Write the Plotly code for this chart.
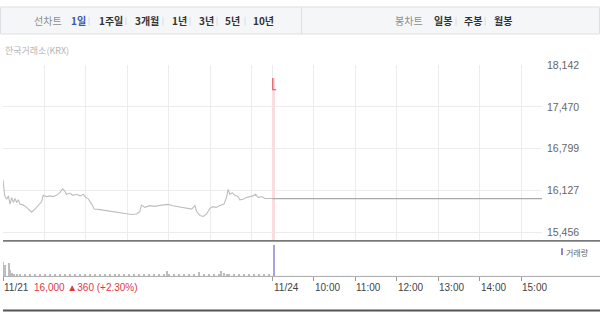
import plotly.graph_objects as go

W, H = 600, 312

# ---------------- data ----------------
# time axis: trading hours since 11/21 09:00 (11/21 session = 0..6.5, 11/24 session = 6.5..13)
price_t_1121 = [0.0, 0.04, 0.09, 0.13, 0.17, 0.21, 0.25, 0.29, 0.33, 0.37, 0.41, 0.49, 0.57,
                0.69, 0.77, 0.85, 0.93, 0.97, 1.05, 1.13, 1.21, 1.29, 1.37, 1.44, 1.49, 1.53,
                1.61, 1.69, 1.77, 1.86, 1.94, 2.00, 2.05, 2.14, 2.20, 2.34, 2.50, 2.66, 2.82,
                2.98, 3.10, 3.22, 3.30, 3.34, 3.42, 3.54, 3.66, 3.82, 3.98, 4.10, 4.22, 4.39,
                4.55, 4.63, 4.67, 4.75, 4.83, 4.91, 4.99, 5.06, 5.14, 5.22, 5.33, 5.39, 5.43,
                5.47, 5.53, 5.59, 5.67, 5.71, 5.79, 5.87, 5.95, 6.03, 6.09, 6.16, 6.24, 6.32,
                6.48, 6.50]
price_v_1121 = [16300, 16048, 15990, 16044, 15912, 16017, 15939, 16001, 15939, 15981, 15912,
                15896, 15860, 15782, 15833, 15887, 15950, 16053, 16033, 16044, 16033, 16053,
                16096, 16158, 16122, 16069, 16085, 16053, 16069, 16044, 16069, 16017, 16001,
                15912, 15833, 15824, 15808, 15793, 15771, 15755, 15745, 15755, 15793, 15896,
                15860, 15887, 15876, 15896, 15907, 15887, 15871, 15860, 15833, 15887, 15793,
                15730, 15714, 15755, 15844, 15871, 15860, 15887, 15912, 16017, 16147, 16069,
                16096, 16053, 16033, 15981, 15990, 16017, 16033, 16044, 16069, 16017, 16033,
                16001, 16001, 16000]
price_t_1124 = [6.5, 13.0]
price_v_1124 = [16000, 16000]

spike_t = [6.53]
spike_low = 15331
spike_high = 17933
tick_t = [6.507, 6.507, 6.59]
tick_v = [17933, 17744, 17744]

vol_t = [0.01, 0.06, 0.14, 0.18, 0.22, 0.27, 0.34, 0.41, 0.53, 0.65, 0.77, 0.89, 1.01, 1.13,
         1.25, 1.37, 1.49, 1.61, 1.73, 1.85, 1.97, 2.09, 2.21, 2.33, 2.45, 2.57, 2.69, 2.81,
         2.93, 3.05, 3.17, 3.29, 3.41, 3.53, 3.65, 3.77, 3.89, 3.95, 4.01, 4.13, 4.25, 4.37,
         4.49, 4.61, 4.73, 4.85, 4.97, 5.09, 5.21, 5.27, 5.33, 5.40, 5.45, 5.57, 5.69, 5.81,
         5.93, 6.05, 6.17, 6.29, 6.41, 6.53]
vol_v = [14.0, 11.0, 13.5, 6.0, 3.0, 2.0, 1.5, 1.2, 1.0, 1.5, 1.2, 1.0, 1.3, 1.0, 1.5, 1.0,
         1.2, 1.0, 1.4, 1.0, 1.0, 1.3, 1.0, 1.2, 1.0, 1.0, 1.5, 1.0, 1.0, 1.2, 1.0, 1.0, 1.2,
         1.0, 1.0, 1.0, 1.2, 4.5, 1.0, 1.0, 1.2, 1.0, 1.0, 1.5, 4.0, 1.0, 1.0, 1.2, 1.5, 4.5,
         3.0, 2.0, 1.5, 1.2, 1.0, 1.5, 1.0, 1.2, 1.0, 1.0, 1.0, 31.0]   # thousand shares

y_ticks = [15456, 16127, 16799, 17470, 18142]
y_range = [15331, 18142]
grid_t = [0, 1, 2, 3, 4, 5, 6, 6.5, 7.5, 8.5, 9.5, 10.5, 11.5, 12.5]
label_t = [0, 6.5, 7.5, 8.5, 9.5, 10.5, 11.5, 12.5]
label_text = ["11/21", "11/24", "10:00", "11:00", "12:00", "13:00", "14:00", "15:00"]

period_items = ["1일", "1주일", "3개월", "1년", "3년", "5년", "10년"]
period_x = [69, 97, 133, 170, 197, 223, 251]
candle_items = ["일봉", "주봉", "월봉"]
candle_x = [432, 462, 492]

FONT = "Noto Sans CJK KR, Noto Sans, sans-serif"
NUMFONT = "Liberation Sans, Arial, sans-serif"


def px(x):
    return x / W


def py(y):
    return 1 - y / H


fig = go.Figure()

# pink highlight + red mark at 11/24 open
fig.add_trace(go.Bar(x=spike_t, y=[spike_high - spike_low], base=[spike_low], width=0.065,
                     marker=dict(color="#fbdcdf", line=dict(width=0)),
                     xaxis="x", yaxis="y", showlegend=False, hoverinfo="skip"))
fig.add_trace(go.Scatter(x=price_t_1121, y=price_v_1121, mode="lines",
                         line=dict(color="#bdbdbd", width=1.1), xaxis="x", yaxis="y",
                         showlegend=False))
fig.add_trace(go.Scatter(x=price_t_1124, y=price_v_1124, mode="lines",
                         line=dict(color="#a9a9a9", width=1.1), xaxis="x", yaxis="y",
                         showlegend=False))
fig.add_trace(go.Scatter(x=tick_t, y=tick_v, mode="lines",
                         line=dict(color="#d8505c", width=1.1), xaxis="x", yaxis="y",
                         showlegend=False))

vol_colors = ["#bdbdbd"] * (len(vol_v) - 1) + ["#a9a4d4"]
fig.add_trace(go.Bar(x=vol_t, y=vol_v, width=0.025,
                     marker=dict(color=vol_colors, line=dict(width=0)),
                     xaxis="x2", yaxis="y2", showlegend=False))

x_dom = [px(3), px(542)]
fig.update_layout(
    width=W, height=H,
    margin=dict(l=0, r=0, t=0, b=0),
    paper_bgcolor="white", plot_bgcolor="rgba(0,0,0,0)",
    bargap=0, barmode="overlay",
    xaxis=dict(domain=x_dom, range=[0, 13], tickvals=grid_t, showticklabels=False,
               showgrid=True, gridcolor="#ececec", gridwidth=1, zeroline=False,
               ticks="", anchor="y", fixedrange=True),
    yaxis=dict(domain=[py(239), py(60)], range=y_range, tickvals=y_ticks, tickformat=",",
               side="right", showgrid=True, gridcolor="#ececec", zeroline=False,
               ticks="", tickfont=dict(family=NUMFONT, size=10.5, color="#666666"),
               anchor="x", ticklabelstandoff=4),
    xaxis2=dict(domain=x_dom, range=[0, 13], tickvals=label_t, showticklabels=False,
                showgrid=False, zeroline=False, ticks="outside", ticklen=4,
                tickcolor="#9a9a9a", tickwidth=1, anchor="y2", showline=False),
    yaxis2=dict(domain=[py(275.5), py(240)], range=[0, 35.5], showgrid=False,
                showticklabels=False, zeroline=False, ticks="", anchor="x2"),
)

shapes = []
# top button bar
shapes.append(dict(type="rect", xref="paper", yref="paper", x0=px(0.5), x1=px(599.5),
                   y0=py(28.5), y1=py(1), fillcolor="#f5f6f8",
                   line=dict(color="#dedfe2", width=1), layer="below"))
shapes.append(dict(type="line", xref="paper", yref="paper", x0=px(301.5), x1=px(301.5),
                   y0=py(28.5), y1=py(1), line=dict(color="#dedfe2", width=1)))
# separators between items
for sx in [89, 126, 163, 190, 217, 245, 456, 485]:
    shapes.append(dict(type="line", xref="paper", yref="paper", x0=px(sx), x1=px(sx),
                       y0=py(20), y1=py(11), line=dict(color="#dcdcdc", width=1)))
# divider under price panel, volume baseline, bottom line
shapes.append(dict(type="line", xref="paper", yref="paper", x0=px(3), x1=1,
                   y0=py(239.5), y1=py(239.5), line=dict(color="#7a7a7a", width=1.6)))
shapes.append(dict(type="line", xref="paper", yref="paper", x0=px(3), x1=1,
                   y0=py(275.7), y1=py(275.7), line=dict(color="#a8a8a8", width=1)))
shapes.append(dict(type="line", xref="paper", yref="paper", x0=px(3), x1=1,
                   y0=py(310.5), y1=py(310.5), line=dict(color="#555555", width=2)))
# legend marker for volume
shapes.append(dict(type="rect", xref="paper", yref="paper", x0=px(561), x1=px(563),
                   y0=py(254), y1=py(247), fillcolor="#8e87c7", line=dict(width=0)))
fig.update_layout(shapes=shapes)

ann = []
ann.append(dict(text="선차트", x=px(32), y=py(15), xref="paper", yref="paper",
                xanchor="left", yanchor="middle", showarrow=False,
                font=dict(family=FONT, size=10, color="#8d8d8d")))
for i, (t, x0) in enumerate(zip(period_items, period_x)):
    ann.append(dict(text="<b>%s</b>" % t, x=px(x0), y=py(15), xref="paper", yref="paper",
                    xanchor="left", yanchor="middle", showarrow=False,
                    font=dict(family=FONT, size=10,
                              color="#3857a8" if i == 0 else "#333333")))
ann.append(dict(text="봉차트", x=px(393), y=py(15), xref="paper", yref="paper",
                xanchor="left", yanchor="middle", showarrow=False,
                font=dict(family=FONT, size=10, color="#8d8d8d")))
for t, x0 in zip(candle_items, candle_x):
    ann.append(dict(text="<b>%s</b>" % t, x=px(x0), y=py(15), xref="paper", yref="paper",
                    xanchor="left", yanchor="middle", showarrow=False,
                    font=dict(family=FONT, size=10, color="#333333")))
ann.append(dict(text="한국거래소(KRX)", x=px(3), y=py(45), xref="paper", yref="paper",
                xanchor="left", yanchor="middle", showarrow=False,
                font=dict(family=FONT, size=9, color="#b5b5b5")))
# x labels, left aligned on their ticks
for t, lab in zip(label_t, label_text):
    ann.append(dict(text=lab, x=t, y=py(287), xref="x2", yref="paper",
                    xanchor="left", yanchor="middle", showarrow=False, xshift=-1,
                    font=dict(family=NUMFONT, size=10, color="#444444")))
ann.append(dict(text="16,000 ▲360 (+2.30%)", x=px(32), y=py(287), xref="paper", yref="paper",
                xanchor="left", yanchor="middle", showarrow=False,
                font=dict(family=NUMFONT, size=10, color="#e0373f")))
ann.append(dict(text="거래량", x=px(563.5), y=py(251), xref="paper", yref="paper",
                xanchor="left", yanchor="middle", showarrow=False,
                font=dict(family=FONT, size=8, color="#666666")))
fig.update_layout(annotations=ann)

fig.write_html("out.html")
